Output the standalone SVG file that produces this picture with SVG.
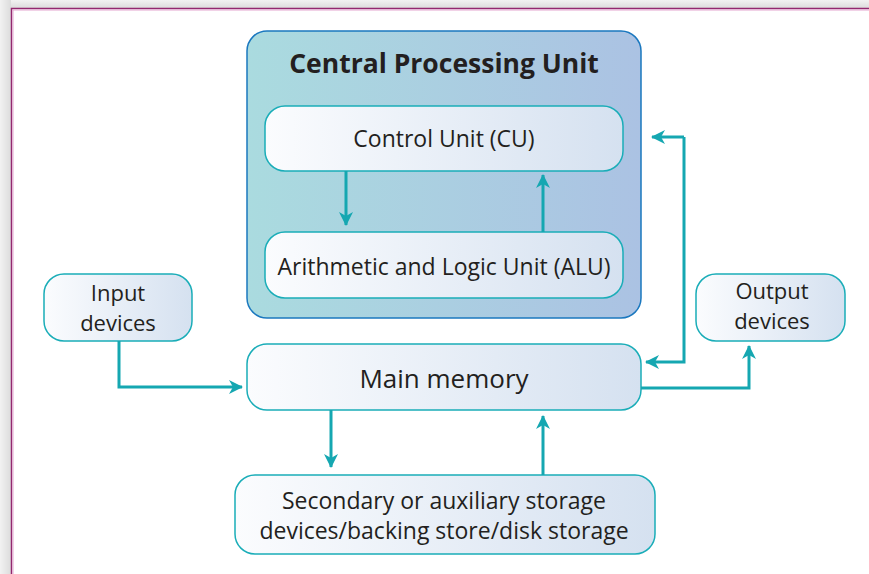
<svg xmlns="http://www.w3.org/2000/svg" width="869" height="574" viewBox="0 0 869 574">
  <defs>
    <linearGradient id="cpuFill" x1="0" y1="0" x2="1" y2="0">
      <stop offset="0" stop-color="#aadbdf"/>
      <stop offset="1" stop-color="#abc2e3"/>
    </linearGradient>
    <linearGradient id="boxFill" x1="0" y1="0" x2="1" y2="0">
      <stop offset="0" stop-color="#fbfcfe"/>
      <stop offset="1" stop-color="#d5e1f0"/>
    </linearGradient>
    <linearGradient id="shadeTop" x1="0" y1="0" x2="0" y2="1">
      <stop offset="0" stop-color="#f2f2f2"/>
      <stop offset="1" stop-color="#dcdcdc"/>
    </linearGradient>
    <linearGradient id="shadeLeft" x1="0" y1="0" x2="1" y2="0">
      <stop offset="0" stop-color="#f2f2f2"/>
      <stop offset="1" stop-color="#dcdcdc"/>
    </linearGradient>
    <marker id="arrow" viewBox="0 0 14 14" refX="13" refY="7" markerWidth="14" markerHeight="14" markerUnits="userSpaceOnUse" orient="auto">
      <path d="M0,0 L14,7 L0,14 L4,7 Z" fill="#15a7b1"/>
    </marker>
    <style>
      .box { fill: url(#boxFill); stroke: #1aadb8; stroke-width: 1.5; }
      .lbl { font-family: "Open Sans", "Liberation Sans", sans-serif; font-size: 23px; fill: #231f20; text-anchor: middle; }
      .small { font-size: 22px; }
      .conn { fill: none; stroke: #15a7b1; stroke-width: 3; marker-end: url(#arrow); }
    </style>
  </defs>

  <!-- page surround and frame -->
  <rect x="0" y="0" width="869" height="574" fill="#ffffff"/>
  <rect x="0" y="0" width="869" height="8" fill="url(#shadeTop)"/>
  <rect x="0" y="0" width="11" height="574" fill="url(#shadeLeft)"/>
  <path d="M11.5,574 V8.5 H869" fill="none" stroke="#93286f" stroke-width="1.5"/>
  <path d="M13,574 V10 H869" fill="none" stroke="#e3a6cf" stroke-width="1"/>

  <!-- CPU container -->
  <g id="cpu">
    <rect x="247" y="31" width="394" height="287" rx="20" fill="url(#cpuFill)" stroke="#1b78bf" stroke-width="1.5"/>
    <text x="444" y="73" font-family="Open Sans, Liberation Sans, sans-serif" font-size="26.5" font-weight="bold" fill="#231f20" text-anchor="middle">Central Processing Unit</text>
  </g>

  <g id="control-unit">
    <rect class="box" x="265" y="106" width="358" height="65" rx="20"/>
    <text class="lbl" x="444" y="147">Control Unit (CU)</text>
  </g>

  <g id="alu">
    <rect class="box" x="265" y="232" width="358" height="66" rx="20"/>
    <text class="lbl" x="444" y="275">Arithmetic and Logic Unit (ALU)</text>
  </g>

  <g id="input-devices">
    <rect class="box" x="44" y="274" width="148" height="67" rx="20"/>
    <text class="lbl small" x="118" y="301">Input</text>
    <text class="lbl small" x="118" y="331">devices</text>
  </g>

  <g id="output-devices">
    <rect class="box" x="696" y="274" width="149" height="67" rx="20"/>
    <text class="lbl small" x="772" y="299">Output</text>
    <text class="lbl small" x="772" y="329">devices</text>
  </g>

  <g id="main-memory">
    <rect class="box" x="247" y="344" width="394" height="66" rx="20"/>
    <text class="lbl" x="444" y="388" style="font-size:26px">Main memory</text>
  </g>

  <g id="secondary-storage">
    <rect class="box" x="235" y="475" width="420" height="79" rx="20"/>
    <text class="lbl" x="444" y="509">Secondary or auxiliary storage</text>
    <text class="lbl" x="444" y="539">devices/backing store/disk storage</text>
  </g>

  <g id="connectors">
    <line class="conn" x1="346" y1="171" x2="346" y2="225"/>
    <line class="conn" x1="543" y1="232" x2="543" y2="175"/>
    <polyline class="conn" points="119,341 119,387 242,387"/>
    <polyline class="conn" points="684,137 684,362 646,362"/>
    <line class="conn" x1="684" y1="137" x2="652" y2="137"/>
    <polyline class="conn" points="641,388 749,388 749,346"/>
    <line class="conn" x1="331" y1="410" x2="331" y2="467"/>
    <line class="conn" x1="543" y1="475" x2="543" y2="416"/>
  </g>
</svg>
